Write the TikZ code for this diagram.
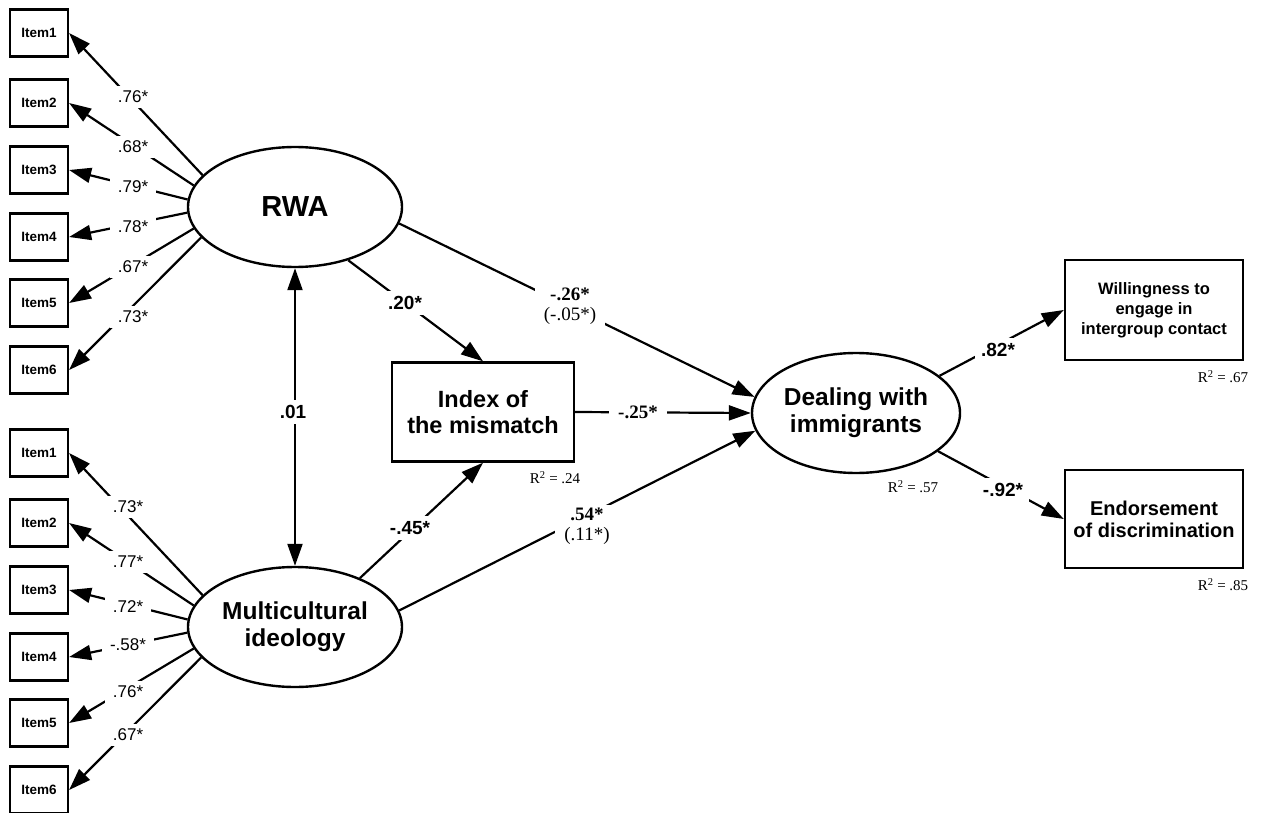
\documentclass[tikz,border=0pt]{standalone}
\usepackage{fontspec}
\setmainfont{Liberation Sans}
\newfontfamily\rmser{Liberation Serif}
\usetikzlibrary{arrows.meta,shapes.geometric}
\begin{document}
\begin{tikzpicture}[x=1pt,y=-1pt,
  itembox/.style={draw,line width=2.2pt,minimum width=58pt,minimum height=47pt,inner sep=0pt,font=\fontsize{13.5}{15}\selectfont\bfseries},
  latent/.style={draw,ellipse,line width=2.4pt,inner sep=0pt,align=center,minimum width=214pt,minimum height=120pt,font=\fontsize{24.5}{27}\selectfont\bfseries},
  obsbox/.style={draw,line width=2.4pt,inner sep=0pt,align=center},
  arr/.style={line width=2.2pt,-{Triangle[length=22pt,width=15pt]}},
  darr/.style={line width=2.2pt,{Triangle[length=22pt,width=15pt]}-{Triangle[length=22pt,width=15pt]}},
  load/.style={fill=white,inner xsep=8pt,inner ysep=5pt,font=\fontsize{17}{19}\selectfont},
  blab/.style={fill=white,inner xsep=6pt,inner ysep=5pt,font=\fontsize{19}{21}\selectfont\bfseries},
  slab/.style={fill=white,inner xsep=9pt,inner ysep=3pt,align=center,font=\fontsize{19}{21}\selectfont\rmser},
  rsq/.style={inner sep=0pt,font=\fontsize{15}{17}\selectfont\rmser}
]
\useasboundingbox (0,0) rectangle (1276,813);
% items
\foreach \n/\y in {1/33,2/103,3/170,4/237,5/303,6/370}
  \node[itembox] (r\n) at (39,\y) {Item\n};
\foreach \n/\y in {1/453,2/523,3/590,4/657,5/723,6/790}
  \node[itembox] (m\n) at (39,\y) {Item\n};
% latent variables
\node[latent,font=\fontsize{29}{31}\selectfont\bfseries] (rwa) at (295,207) {RWA};
\node[latent] (mc) at (295,627) {Multicultural\\ideology};
\node[latent,minimum width=208pt] (dwi) at (856,413) {Dealing with\\immigrants};
% observed
\node[obsbox,minimum width=182pt,minimum height=99pt,font=\fontsize{23.5}{25.5}\selectfont\bfseries] (idx) at (483,412) {Index of\\the mismatch};
\node[obsbox,minimum width=178pt,minimum height=100pt,font=\fontsize{16.5}{20}\selectfont\bfseries] (will) at (1154,310) {Willingness to\\engage in\\intergroup contact};
\node[obsbox,minimum width=178pt,minimum height=98pt,font=\fontsize{20}{22}\selectfont\bfseries] (endo) at (1154,519) {Endorsement\\of discrimination};
% loadings
\foreach \n/\a in {1/161,2/168,3/176,4/183,5/192,6/198}{
  \draw[arr] (rwa.\a) -- (r\n.east);
  \draw[arr] (mc.\a) -- (m\n.east);
}
% structural paths
\draw[darr] (rwa.south) -- (mc.north);
\draw[arr] (rwa.-45) -- (idx.north);
\draw[arr] (rwa.-9) -- (dwi.171);
\draw[arr] (idx.east) -- (dwi.west);
\draw[arr] (mc.37) -- (idx.south);
\draw[arr] (mc.9) -- (dwi.190);
\draw[arr] (dwi.24) -- (will.west);
\draw[arr] (dwi.-25) -- (endo.west);
% loading labels
\foreach \t/\y [count=\i] in {.76*/97,.68*/147,.79*/187,.78*/227,.67*/267,.73*/317}
  \node[load] (lr\i) at (133,\y) {\t};
\foreach \t/\y [count=\i] in {.73*/507,.77*/562,.72*/607,-.58*/645,.76*/692,.67*/735}
  \node[load] (lm\i) at (128,\y) {\t};
% path labels
\node[blab] (l01) at (293,412) {.01};
\node[blab] (l20) at (405,303) {.20*};
\node[slab] (l26) at (570,306) {\textbf{-.26*}\\[-1pt](-.05*)};
\node[slab,font=\fontsize{19}{21}\selectfont\rmser\bfseries] (l25) at (638,412) {-.25*};
\node[blab] (l45) at (410,528) {-.45*};
\node[slab] (l54) at (587,526) {\textbf{.54*}\\[-1pt](.11*)};
\node[blab] (l82) at (998,350) {.82*};
\node[blab] (l92) at (1003,490) {-.92*};
% R squared
\node[rsq] (q24) at (555,478) {R\textsuperscript{2} = .24};
\node[rsq] (q57) at (913,487) {R\textsuperscript{2} = .57};
\node[rsq] (q67) at (1223,377) {R\textsuperscript{2} = .67};
\node[rsq] (q85) at (1223,585) {R\textsuperscript{2} = .85};
\end{tikzpicture}
\end{document}
